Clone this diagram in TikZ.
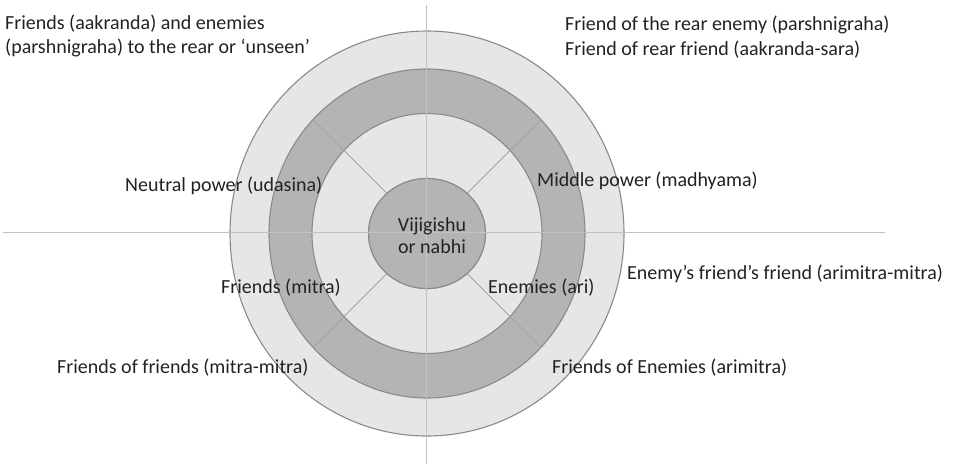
\documentclass[tikz,border=0pt]{standalone}
\usepackage{fontspec}
\setmainfont{Carlito}
\usetikzlibrary{shapes.geometric}
\definecolor{lightring}{HTML}{E6E6E8}
\definecolor{darkring}{HTML}{B4B4B6}
\definecolor{rimgray}{HTML}{8A8A8A}
\definecolor{axisgray}{HTML}{C2C2C2}
\definecolor{spokegray}{HTML}{A6A6A6}
\definecolor{txt}{HTML}{222222}
\tikzset{
  disc/.style={ellipse, draw=rimgray, line width=1.1pt, inner sep=0pt, outer sep=0pt},
  axisline/.style={draw=axisgray, line width=1.2pt},
  spoke/.style={draw=spokegray, line width=0.8pt},
  lbl/.style={anchor=base west, inner sep=0pt, text=txt, font=\fontsize{20}{25}\selectfont},
  clbl/.style={anchor=base, inner sep=0pt, text=txt, font=\fontsize{20}{25}\selectfont},
}
\begin{document}
\begin{tikzpicture}[x=1pt,y=-1pt]
\useasboundingbox (0,0) rectangle (954,464);
% rings
\node[disc, fill=lightring, minimum width=394pt, minimum height=405pt] (outer) at (427,233.5) {};
\node[disc, fill=darkring, minimum width=316pt, minimum height=329pt] (ring) at (427,233.5) {};
\node[disc, fill=lightring, minimum width=230pt, minimum height=240pt] (inner) at (427,233.5) {};
\node[disc, fill=darkring, minimum width=117pt, minimum height=110pt] (core) at (427,233.5) {};
% spokes
\foreach \a in {45,135,225,315}{
  \draw[spoke] (core.\a) -- (ring.\a);
}
% redraw core on top of spokes
\node[disc, fill=darkring, minimum width=117pt, minimum height=110pt] (core2) at (427,233.5) {};
% axes
\coordinate (axL) at (3,232.7);
\coordinate (axR) at (885,232.7);
\coordinate (axT) at (426.7,5);
\coordinate (axB) at (426.7,464);
\draw[axisline] (axL) -- (axR);
\draw[axisline] (axT) -- (axB);
% labels
\node[lbl] (l1a) at (5,29.3) {Friends (aakranda) and enemies};
\node[lbl] (l1b) at (5,53.8) {(parshnigraha) to the rear or ‘unseen’};
\node[lbl] (l2a) at (565,30.7) {Friend of the rear enemy (parshnigraha)};
\node[lbl] (l2b) at (565,55) {Friend of rear friend (aakranda-sara)};
\node[lbl] (neutral) at (125,191) {Neutral power (udasina)};
\node[lbl] (middle) at (537,186) {Middle power (madhyama)};
\node[clbl] (vij1) at (432,231) {Vijigishu};
\node[clbl] (vij2) at (432,253) {or nabhi};
\node[lbl] (mitra) at (221,293) {Friends (mitra)};
\node[lbl] (ari) at (488,293) {Enemies (ari)};
\node[lbl] (amm) at (627,279.3) {Enemy’s friend’s friend (arimitra-mitra)};
\node[lbl] (mm) at (57,373) {Friends of friends (mitra-mitra)};
\node[lbl] (am) at (552,373) {Friends of Enemies (arimitra)};
\end{tikzpicture}
\end{document}
